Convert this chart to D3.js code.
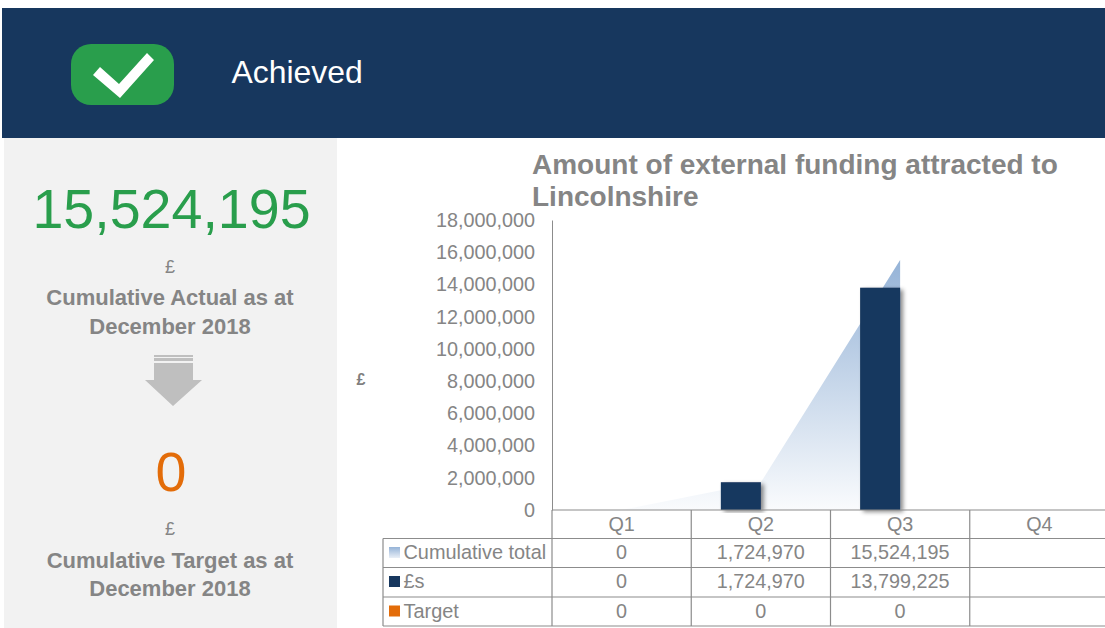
<!DOCTYPE html>
<html>
<head>
<meta charset="utf-8">
<script src="https://cdnjs.cloudflare.com/ajax/libs/d3/7.8.5/d3.min.js"></script>
<style>
	html, body { margin: 0; padding: 0; background: #fff; }
	svg { display: block; font-family: "Liberation Sans", Arial, sans-serif; }
</style>
</head>
<body>
<div id="container"></div>
<script>
var quarters = ['Q1', 'Q2', 'Q3', 'Q4'];
var cumulative = [0, 1724970, 15524195, null];
var pounds = [0, 1724970, 13799225, null];
var target = [0, 0, 0, null];
var yTicks = [0, 2000000, 4000000, 6000000, 8000000, 10000000, 12000000, 14000000, 16000000, 18000000];
var rowNames = ['Cumulative total', '£s', 'Target'];
var rowValues = [cumulative, pounds, target];
var barSeries = ['£s', 'Target'];

var navy = '#17375e';
var green = '#299e4c';
var orange = '#e36c09';
var grey = '#858585';
var line = '#8c8c8c';
var fmt = d3.format(',');

var svg = d3.select('#container')
	.append('svg')
	.attr('width', 1105)
	.attr('height', 628);

var defs = svg.append('defs');

var grad = defs.append('linearGradient')
	.attr('id', 'areaGrad')
	.attr('x1', 0).attr('y1', 0).attr('x2', 0).attr('y2', 1);
grad.append('stop').attr('offset', '0%').attr('stop-color', '#95b3d7');
grad.append('stop').attr('offset', '100%').attr('stop-color', '#95b3d7').attr('stop-opacity', 0.05);

var swatchGrad = defs.append('linearGradient')
	.attr('id', 'swatchGrad')
	.attr('x1', 0).attr('y1', 0).attr('x2', 0).attr('y2', 1);
swatchGrad.append('stop').attr('offset', '0%').attr('stop-color', '#95b3d7');
swatchGrad.append('stop').attr('offset', '100%').attr('stop-color', '#e9eff7');

defs.append('filter')
	.attr('id', 'barShadow')
	.attr('x', '-30%').attr('y', '-10%').attr('width', '170%').attr('height', '120%')
	.append('feDropShadow')
	.attr('dx', 3).attr('dy', 2).attr('stdDeviation', 2)
	.attr('flood-color', '#000').attr('flood-opacity', 0.45);

// header band
svg.append('rect')
	.attr('x', 2).attr('y', 8).attr('width', 1103).attr('height', 130)
	.attr('fill', navy);
svg.append('rect')
	.attr('x', 71).attr('y', 44).attr('width', 103).attr('height', 61).attr('rx', 20)
	.attr('fill', green);
svg.append('path')
	.attr('d', 'M93,75 L120,98 L154,60 L147,53 L119,84 L100,67 Z')
	.attr('fill', '#fff');
svg.append('text')
	.attr('x', 231.5).attr('y', 83)
	.attr('font-size', 31.9)
	.attr('fill', '#fff')
	.text('Achieved');

// left panel
svg.append('rect')
	.attr('x', 4).attr('y', 138).attr('width', 333).attr('height', 490)
	.attr('fill', '#f2f2f2');

var panelX = 170;

function panelText(y, size, color, weight, str, cx) {
	svg.append('text')
		.attr('x', cx || panelX).attr('y', y)
		.attr('text-anchor', 'middle')
		.attr('font-size', size)
		.attr('font-weight', weight)
		.attr('fill', color)
		.text(str);
}

panelText(228, 55.6, green, 'normal', fmt(cumulative[2]), 171.5);
panelText(273, 18, grey, 'normal', '£');
panelText(305, 22, grey, 'bold', 'Cumulative Actual as at');
panelText(334, 22, grey, 'bold', 'December 2018');
panelText(491, 55.6, orange, 'normal', fmt(target[2]), 171);
panelText(535, 18, grey, 'normal', '£');
panelText(568, 22, grey, 'bold', 'Cumulative Target as at');
panelText(596, 22, grey, 'bold', 'December 2018');

// arrow
svg.append('rect').attr('x', 154).attr('y', 355).attr('width', 39).attr('height', 2).attr('fill', '#bfbfbf');
svg.append('rect').attr('x', 154).attr('y', 358).attr('width', 39).attr('height', 3).attr('fill', '#bfbfbf');
svg.append('path')
	.attr('d', 'M154,363 H193 V380 H202 L173,406 L145,380 H154 Z')
	.attr('fill', '#bfbfbf');

// chart title
svg.append('text')
	.attr('x', 532).attr('y', 174)
	.attr('font-size', 28).attr('font-weight', 'bold').attr('fill', grey)
	.text('Amount of external funding attracted to');
svg.append('text')
	.attr('x', 532).attr('y', 206)
	.attr('font-size', 28).attr('font-weight', 'bold').attr('fill', grey)
	.text('Lincolnshire');

var x = d3.scaleBand()
	.domain(quarters)
	.range([552, 1109]);

var xSeries = d3.scaleBand()
	.domain(barSeries)
	.range([0, x.bandwidth()])
	.paddingOuter(0.74);

var y = d3.scaleLinear()
	.domain([0, 18000000])
	.range([510, 220]);

// cumulative area
var area = d3.area()
	.defined((d) => d !== null)
	.x((d, i) => x(quarters[i]) + x.bandwidth() / 2)
	.y0(y(0))
	.y1((d) => y(d));

svg.append('path')
	.attr('d', area(cumulative))
	.attr('fill', 'url(#areaGrad)');

// bars
svg.append('g')
	.selectAll('rect')
	.data(pounds)
	.enter()
	.filter((d) => d !== null && d > 0)
	.append('rect')
	.attr('x', (d) => x(quarters[pounds.indexOf(d)]) + xSeries('£s'))
	.attr('y', (d) => y(d))
	.attr('width', xSeries.bandwidth())
	.attr('height', (d) => y(0) - y(d))
	.attr('fill', navy)
	.attr('filter', 'url(#barShadow)');

svg.append('g')
	.selectAll('rect')
	.data(target)
	.enter()
	.filter((d) => d !== null)
	.append('rect')
	.attr('x', (d, i) => x(quarters[i]) + xSeries('Target'))
	.attr('y', (d) => y(d))
	.attr('width', xSeries.bandwidth())
	.attr('height', (d) => y(0) - y(d))
	.attr('fill', orange);

// y axis
var yAxis = svg.append('g')
	.attr('transform', 'translate(552,0)')
	.call(d3.axisLeft(y).tickValues(yTicks).tickFormat(fmt).tickSize(0).tickPadding(17));
yAxis.select('.domain').attr('stroke', line).attr('stroke-width', 1);
yAxis.selectAll('text')
	.attr('font-family', 'inherit')
	.attr('font-size', 19.8)
	.attr('fill', grey);

svg.append('text')
	.attr('x', 361).attr('y', 385)
	.attr('text-anchor', 'middle')
	.attr('font-size', 16).attr('font-weight', 'bold').attr('fill', '#7f7f7f')
	.text('£');

// data table
var rowY = [510, 538.5, 567.5, 597, 626];
var tableLeft = 383;
var tableRight = 1109;
var table = svg.append('g');

function tableLine(x1, y1, x2, y2) {
	table.append('line')
		.attr('x1', x1).attr('y1', y1).attr('x2', x2).attr('y2', y2)
		.attr('stroke', line).attr('stroke-width', 1.2);
}

tableLine(552, rowY[0], tableRight, rowY[0]);
rowY.slice(1).forEach((ry) => tableLine(tableLeft, ry, tableRight, ry));
tableLine(tableLeft, rowY[1], tableLeft, rowY[4]);
tableLine(552, rowY[0], 552, rowY[4]);
quarters.forEach((q) => tableLine(x(q) + x.bandwidth(), rowY[0], x(q) + x.bandwidth(), rowY[4]));

table.selectAll('text.quarter')
	.data(quarters)
	.enter()
	.append('text')
	.attr('class', 'quarter')
	.attr('x', (d) => x(d) + x.bandwidth() / 2)
	.attr('y', rowY[0] + 21)
	.attr('text-anchor', 'middle')
	.attr('font-size', 19.8)
	.attr('fill', grey)
	.text((d) => d);

var swatches = ['url(#swatchGrad)', navy, orange];

rowNames.forEach((name, r) => {
	var base = rowY[r + 1] + 20.5;
	table.append('rect')
		.attr('x', 389).attr('y', rowY[r + 1] + 8.5)
		.attr('width', 11).attr('height', 11)
		.attr('fill', swatches[r]);
	table.append('text')
		.attr('x', 403.5).attr('y', base)
		.attr('font-size', 19.9).attr('fill', grey)
		.text(name);
	table.selectAll('text.val' + r)
		.data(rowValues[r])
		.enter()
		.append('text')
		.attr('class', 'val' + r)
		.attr('x', (d, i) => x(quarters[i]) + x.bandwidth() / 2)
		.attr('y', base)
		.attr('text-anchor', 'middle')
		.attr('font-size', 19.8)
		.attr('fill', grey)
		.text((d) => d === null ? '' : fmt(d));
});
</script>
</body>
</html>
